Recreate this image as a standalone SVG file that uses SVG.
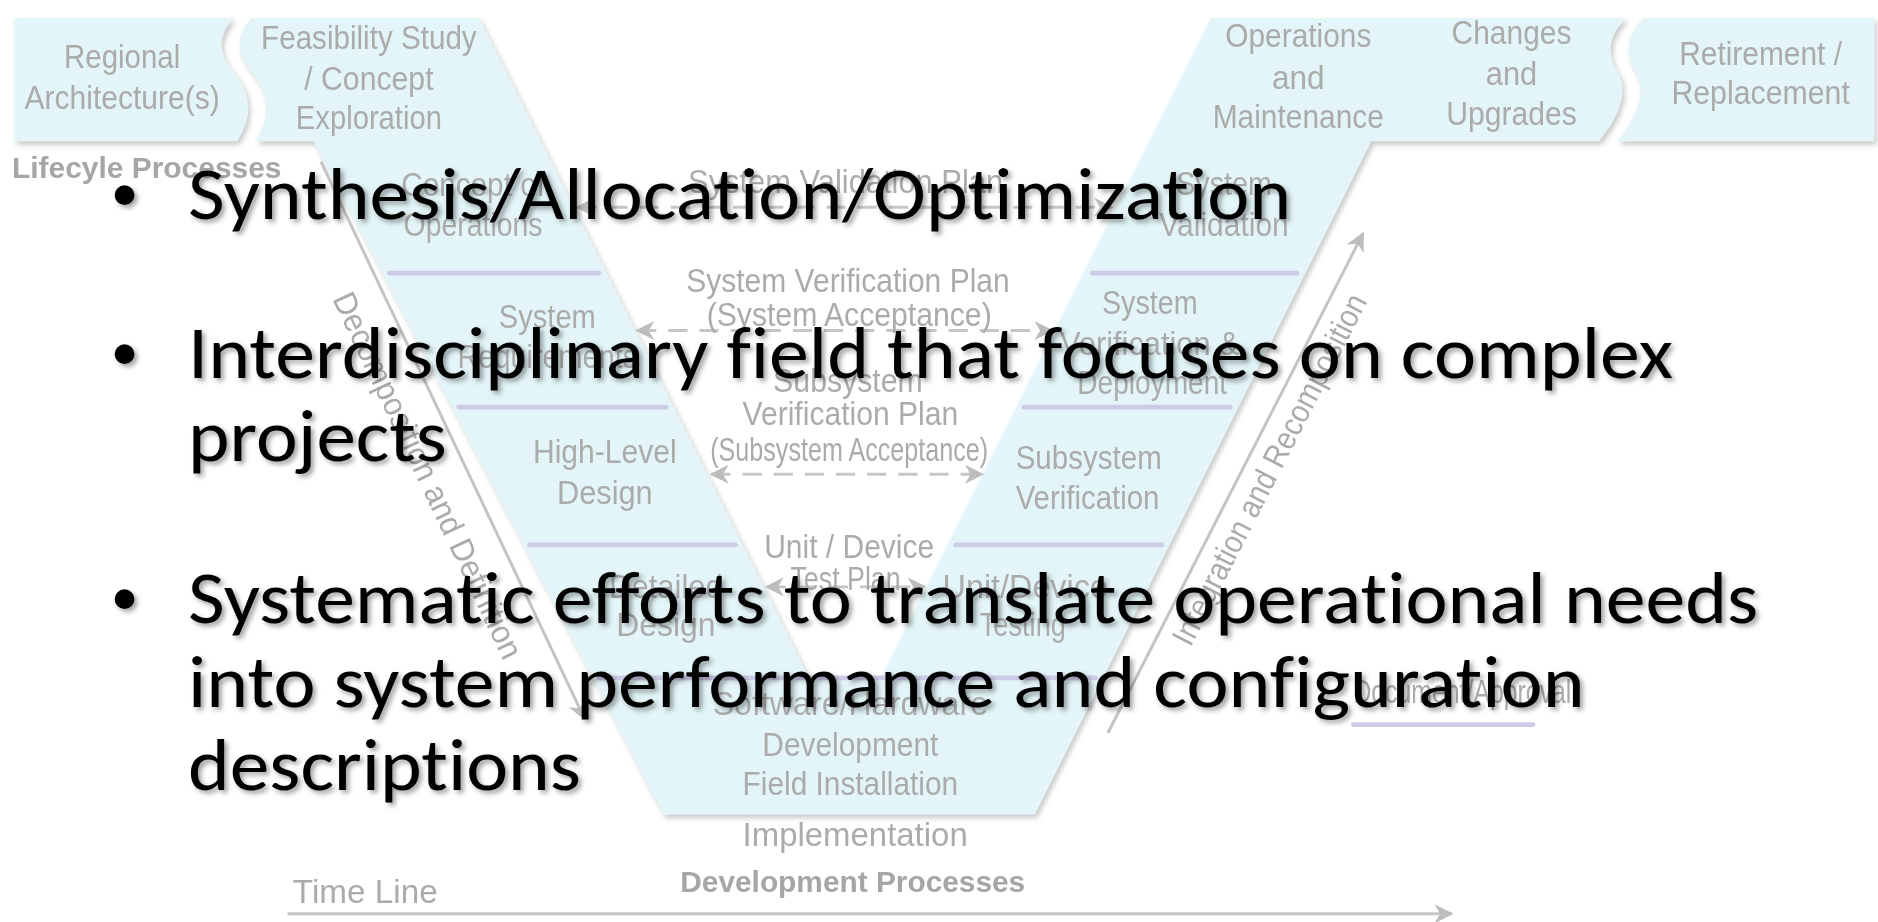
<svg xmlns="http://www.w3.org/2000/svg" width="1878" height="922" viewBox="0 0 1878 922">
<defs>
<style>
.bg{font-family:"Liberation Sans Narrow","Liberation Sans",Arial,sans-serif;font-size:27px;fill:#ababab;text-anchor:middle}
.bgb{font-family:"Liberation Sans Narrow","Liberation Sans",Arial,sans-serif;font-size:24px;font-weight:bold;fill:#a6a6a6}
.main{font-family:Carlito,Calibri,"Open Sans",sans-serif;font-size:61px;fill:#000;font-variant-ligatures:none}
.bul{font-family:"Liberation Sans",Arial,sans-serif;font-size:61px;fill:#000;text-anchor:middle}
.cyan{fill:#e3f5f8}
.div{stroke:#cdcbe8;stroke-width:4;stroke-linecap:round;fill:none}
.gl{stroke:#c4c4c4;stroke-width:2.5;fill:none}
.dash{stroke:#c6c6c6;stroke-width:2.5;fill:none;stroke-dasharray:16 10}
</style>
<marker id="ah" viewBox="0 0 10 10" refX="9" refY="5" markerWidth="16" markerHeight="16" markerUnits="userSpaceOnUse" orient="auto-start-reverse"><path d="M0,0 L10,5 L0,10 L3,5 Z" fill="#bdbdbd"/></marker>
<filter id="sh" x="-5%" y="-5%" width="110%" height="115%"><feDropShadow dx="2" dy="3" stdDeviation="2" flood-color="#8a8a8a" flood-opacity="0.45"/></filter>
<filter id="soft" x="-3%" y="-3%" width="106%" height="106%"><feGaussianBlur stdDeviation="0.5"/></filter>
<filter id="ts" x="-2%" y="-20%" width="104%" height="150%">
<feGaussianBlur in="SourceAlpha" stdDeviation="2"/>
<feOffset dx="2.5" dy="2.5" result="b"/>
<feFlood flood-color="#000" flood-opacity="0.38"/>
<feComposite in2="b" operator="in"/>
<feMerge><feMergeNode/><feMergeNode in="SourceGraphic"/></feMerge>
</filter>
</defs>
<rect width="1878" height="922" fill="#fff"/>
<g transform="scale(1.1977)">
<g id="background" filter="url(#soft)">
<g id="v-shape" filter="url(#sh)">
<path class="cyan" d="M12,15 L195,15 Q175,37 195,60 Q218,88 198,118 L12,118 Z"/>
<path class="cyan" d="M210,15 L400,15 L675,565 L736,565 L1011,15 L1358,15 Q1335,37 1352,62 Q1362,85 1335,118 L1145,118 L864,680 L554,680 L262,118 L213,118 Q233,88 210,60 Q190,37 210,15 Z"/>
<path class="cyan" d="M1372,15 L1565,15 L1565,118 L1350,118 Q1377,85 1367,62 Q1350,37 1372,15 Z"/>
</g>
<g id="dividers">
<line class="div" x1="325" y1="228" x2="500" y2="228"/>
<line class="div" x1="383" y1="340" x2="556" y2="340"/>
<line class="div" x1="442" y1="455" x2="614" y2="455"/>
<line class="div" x1="500" y1="566" x2="915" y2="566"/>
<line class="div" x1="912" y1="228" x2="1083" y2="228"/>
<line class="div" x1="855" y1="340" x2="1027" y2="340"/>
<line class="div" x1="798" y1="455" x2="970" y2="455"/>
<line class="div" x1="1130" y1="605" x2="1280" y2="605"/>
</g>
<g id="connectors">
<line class="gl" x1="268" y1="135" x2="488" y2="600" marker-end="url(#ah)"/>
<line class="gl" x1="925" y1="612" x2="1138" y2="195" marker-end="url(#ah)"/>
<line class="gl" x1="240" y1="763" x2="1212" y2="763" marker-end="url(#ah)"/>
<line class="dash" x1="482" y1="173" x2="928" y2="173" marker-start="url(#ah)" marker-end="url(#ah)"/>
<line class="dash" x1="532" y1="276" x2="878" y2="276" marker-start="url(#ah)" marker-end="url(#ah)"/>
<line class="dash" x1="594" y1="396" x2="820" y2="396" marker-start="url(#ah)" marker-end="url(#ah)"/>
<line class="dash" x1="640" y1="490" x2="772" y2="490" marker-start="url(#ah)" marker-end="url(#ah)"/>
</g>
<g id="n-regional"><text class="bg" x="102" y="57" textLength="97" lengthAdjust="spacingAndGlyphs">Regional</text><text class="bg" x="102" y="91" textLength="163" lengthAdjust="spacingAndGlyphs">Architecture(s)</text></g>
<g id="n-feasibility"><text class="bg" x="308" y="41" textLength="180" lengthAdjust="spacingAndGlyphs">Feasibility Study</text><text class="bg" x="308" y="75" textLength="108" lengthAdjust="spacingAndGlyphs">/ Concept</text><text class="bg" x="308" y="108" textLength="122" lengthAdjust="spacingAndGlyphs">Exploration</text></g>
<g id="n-lifecycle"><text class="bgb" x="10" y="149" textLength="225" lengthAdjust="spacingAndGlyphs">Lifecyle Processes</text></g>
<g id="n-conops"><text class="bg" x="395" y="164" textLength="120" lengthAdjust="spacingAndGlyphs">Concept of</text><text class="bg" x="395" y="197" textLength="116" lengthAdjust="spacingAndGlyphs">Operations</text></g>
<g id="n-sysvalplan"><text class="bg" x="706" y="161" textLength="263" lengthAdjust="spacingAndGlyphs">System Validation Plan</text></g>
<g id="n-sysval"><text class="bg" x="1022" y="163" textLength="80" lengthAdjust="spacingAndGlyphs">System</text><text class="bg" x="1022" y="197" textLength="108" lengthAdjust="spacingAndGlyphs">Validation</text></g>
<g id="n-sysreq"><text class="bg" x="457" y="274" textLength="81" lengthAdjust="spacingAndGlyphs">System</text><text class="bg" x="457" y="307" textLength="150" lengthAdjust="spacingAndGlyphs">Requirements</text></g>
<g id="n-sysverplan"><text class="bg" x="708" y="244" textLength="270" lengthAdjust="spacingAndGlyphs">System Verification Plan</text><text class="bg" x="709" y="272" textLength="238" lengthAdjust="spacingAndGlyphs">(System Acceptance)</text></g>
<g id="n-sysver"><text class="bg" x="960" y="262" textLength="80" lengthAdjust="spacingAndGlyphs">System</text><text class="bg" x="960" y="296" textLength="150" lengthAdjust="spacingAndGlyphs">Verification &amp;</text><text class="bg" x="962" y="329" textLength="125" lengthAdjust="spacingAndGlyphs">Deployment</text></g>
<g id="n-subverplan"><text class="bg" x="708" y="327" textLength="125" lengthAdjust="spacingAndGlyphs">Subsystem</text><text class="bg" x="710" y="355" textLength="180" lengthAdjust="spacingAndGlyphs">Verification Plan</text><text class="bg" x="709" y="385" textLength="232" lengthAdjust="spacingAndGlyphs">(Subsystem Acceptance)</text></g>
<g id="n-hld"><text class="bg" x="505" y="387" textLength="120" lengthAdjust="spacingAndGlyphs">High-Level</text><text class="bg" x="505" y="421" textLength="80" lengthAdjust="spacingAndGlyphs">Design</text></g>
<g id="n-subver"><text class="bg" x="909" y="392" textLength="122" lengthAdjust="spacingAndGlyphs">Subsystem</text><text class="bg" x="908" y="425" textLength="120" lengthAdjust="spacingAndGlyphs">Verification</text></g>
<g id="n-unittestplan"><text class="bg" x="709" y="466" textLength="142" lengthAdjust="spacingAndGlyphs">Unit / Device</text><text class="bg" x="706" y="493" textLength="92" lengthAdjust="spacingAndGlyphs">Test Plan</text></g>
<g id="n-detailed"><text class="bg" x="556" y="499" textLength="95" lengthAdjust="spacingAndGlyphs">Detailed</text><text class="bg" x="556" y="531" textLength="83" lengthAdjust="spacingAndGlyphs">Design</text></g>
<g id="n-unittest"><text class="bg" x="856" y="499" textLength="138" lengthAdjust="spacingAndGlyphs">Unit/Device</text><text class="bg" x="854" y="531" textLength="72" lengthAdjust="spacingAndGlyphs">Testing</text></g>
<g id="n-swhw"><text class="bg" x="710" y="597" textLength="230" lengthAdjust="spacingAndGlyphs">Software/Hardware</text><text class="bg" x="710" y="631" textLength="147" lengthAdjust="spacingAndGlyphs">Development</text><text class="bg" x="710" y="664" textLength="180" lengthAdjust="spacingAndGlyphs">Field Installation</text></g>
<g id="n-impl"><text class="bg" x="714" y="706" textLength="188" lengthAdjust="spacingAndGlyphs">Implementation</text></g>
<g id="n-devproc"><text class="bgb" x="712" y="745" text-anchor="middle" textLength="288" lengthAdjust="spacingAndGlyphs">Development Processes</text></g>
<g id="n-timeline"><text class="bg" x="305" y="754" textLength="121" lengthAdjust="spacingAndGlyphs">Time Line</text></g>
<g id="n-ops"><text class="bg" x="1084" y="39" textLength="122" lengthAdjust="spacingAndGlyphs">Operations</text><text class="bg" x="1084" y="74" textLength="44" lengthAdjust="spacingAndGlyphs">and</text><text class="bg" x="1084" y="107" textLength="143" lengthAdjust="spacingAndGlyphs">Maintenance</text></g>
<g id="n-changes"><text class="bg" x="1262" y="37" textLength="100" lengthAdjust="spacingAndGlyphs">Changes</text><text class="bg" x="1262" y="71" textLength="43" lengthAdjust="spacingAndGlyphs">and</text><text class="bg" x="1262" y="104" textLength="109" lengthAdjust="spacingAndGlyphs">Upgrades</text></g>
<g id="n-retire"><text class="bg" x="1470" y="54" textLength="136" lengthAdjust="spacingAndGlyphs">Retirement /</text><text class="bg" x="1470" y="87" textLength="149" lengthAdjust="spacingAndGlyphs">Replacement</text></g>
<g id="n-docapp"><text class="bg" x="1221" y="587" textLength="182" lengthAdjust="spacingAndGlyphs">Document/Approval</text></g>
<g id="n-decomp" transform="translate(357,397) rotate(64.7)"><text class="bg" x="0" y="9" textLength="335" lengthAdjust="spacingAndGlyphs">Decomposition and Definition</text></g>
<g id="n-integ" transform="translate(1060,392) rotate(-62.9)"><text class="bg" x="0" y="9" textLength="325" lengthAdjust="spacingAndGlyphs">Integration and Recomposition</text></g>
</g>
<g id="bullets" filter="url(#ts)">
<text class="bul" x="104" y="183">•</text>
<text class="main" x="157" y="183" textLength="921" lengthAdjust="spacingAndGlyphs">Synthesis/Allocation/Optimization</text>
<text class="bul" x="104" y="316">•</text>
<text class="main" x="157" y="316" textLength="1240" lengthAdjust="spacingAndGlyphs">Interdisciplinary field that focuses on complex</text>
<text class="main" x="157" y="385" textLength="216" lengthAdjust="spacingAndGlyphs">projects</text>
<text class="bul" x="104" y="520">•</text>
<text class="main" x="157" y="520" textLength="1311" lengthAdjust="spacingAndGlyphs">Systematic efforts to translate operational needs</text>
<text class="main" x="157" y="590" textLength="1166" lengthAdjust="spacingAndGlyphs">into system performance and configuration</text>
<text class="main" x="157" y="660" textLength="328" lengthAdjust="spacingAndGlyphs">descriptions</text>
</g>
</g>
</svg>
